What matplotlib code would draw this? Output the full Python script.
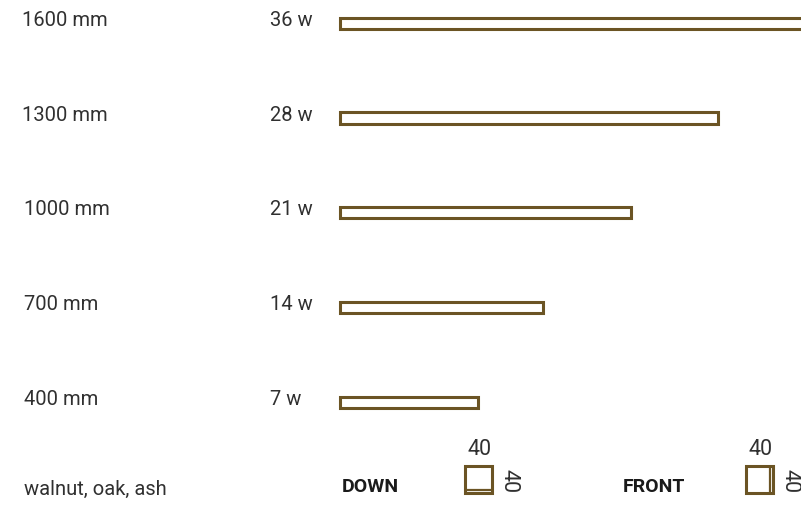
"""
    Lamp sizes: length, power and profile
"""
import matplotlib
matplotlib.use("Agg")
from matplotlib import pyplot as plt
from matplotlib.patches import Rectangle

lengths = ["400 mm", "700 mm", "1000 mm", "1300 mm", "1600 mm"]
watts = ["7 w", "14 w", "21 w", "28 w", "36 w"]
# drawn bar length (px-like units, 1600 runs off the edge)
bar_len = [138, 203, 291, 378, 470]
profile_size = 40
woods = "walnut, oak, ash"

BROWN = "#6b5424"
GREY = "#303030"
FONT = "Roboto"

fig = plt.figure(figsize=(8.01, 5.07), dpi=100)
ax = fig.add_axes([0, 0, 1, 1])
ax.set_xlim(-340, 461)
ax.set_ylim(-1.107, 4.247)
ax.axis("off")

rows = list(range(len(lengths)))
ax.barh(rows, bar_len, height=0.118, left=0, color="white",
        edgecolor=BROWN, linewidth=2.2)

for ii, (ln, w) in enumerate(zip(lengths, watts)):
    ax.text(-318 if ii > 2 else -316, ii + 0.03, ln, fontsize=14.5, family=FONT,
            color=GREY, ha="left", va="center")
    ax.text(-70, ii + 0.03, w, fontsize=14.5, family=FONT,
            color=GREY, ha="left", va="center")

ax.text(-316, -0.917, woods, fontsize=14.5, family=FONT,
        color=GREY, ha="left", va="center")


def profile(x0, label, side):
    # square profile icon with size marks
    ax.text(x0 - 123, -0.896, label, fontsize=14, family=FONT,
            fontweight="bold", color="#1a1a1a", ha="left", va="center")
    sq_w = 27
    sq_h = 0.275
    y0 = -0.954
    ax.add_patch(Rectangle((x0, y0), sq_w, sq_h, fill=False,
                           edgecolor=BROWN, linewidth=2.2))
    if side == "bottom":
        ax.plot([x0 + 2, x0 + sq_w - 2], [y0 + 0.03, y0 + 0.03],
                color=BROWN, linewidth=1.6)
    else:
        ax.plot([x0 + sq_w - 3, x0 + sq_w - 3], [y0 + 0.02, y0 + sq_h - 0.02],
                color=BROWN, linewidth=1.6)
    ax.text(x0 + 15, -0.505, str(profile_size), fontsize=15.5,
            family=FONT, color=GREY, ha="center", va="center")
    ax.text(x0 + sq_w + 17, y0 + sq_h / 2 - 0.02, str(profile_size),
            fontsize=15.5, family=FONT, color=GREY,
            ha="center", va="center", rotation=-90)


profile(125, "DOWN", "bottom")
profile(406, "FRONT", "right")

fig.savefig("out.png", dpi=100)
